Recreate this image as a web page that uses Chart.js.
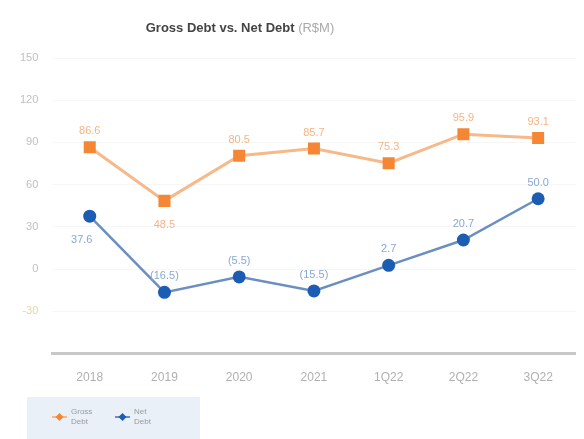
<!DOCTYPE html>
<html><head><meta charset="utf-8">
<script src="https://cdn.jsdelivr.net/npm/chart.js@4.4.0/dist/chart.umd.min.js"></script>
<style>
html,body{margin:0;padding:0;background:#fff;width:584px;height:439px;overflow:hidden;}
#wrap{position:relative;width:584px;height:439px;}
#title{position:absolute;left:0;top:20px;width:480px;text-align:center;font-family:"Liberation Sans",Arial,sans-serif;font-size:13px;font-weight:bold;color:#444;}
#title span{font-weight:normal;color:#aaa;}
</style></head>
<body><div id="wrap"><canvas id="c" width="584" height="439"></canvas>
<div id="title">Gross Debt vs. Net Debt <span>(R$M)</span></div></div>
<script>
const categories = ["2018","2019","2020","2021","1Q22","2Q22","3Q22"];
const grossDebt = [86.6, 48.5, 80.5, 85.7, 75.3, 95.9, 93.1];
const netDebt = [37.6, -16.5, -5.5, -15.5, 2.7, 20.7, 50.0];
const yTicks = [150, 120, 90, 60, 30, 0, -30];
const legendNames = [["Gross", "Debt"], ["Net", "Debt"]];

const FONT = '"Liberation Sans", Arial, sans-serif';
function fmt(v){ return v < 0 ? "(" + Math.abs(v).toFixed(1) + ")" : v.toFixed(1); }

const labelPlugin = {
  id: 'valLabels',
  afterDatasetsDraw(chart){
    const ctx = chart.ctx;
    ctx.save();
    ctx.font = '11px ' + FONT;
    ctx.textAlign = 'center';
    ctx.textBaseline = 'middle';
    chart.data.datasets.forEach((ds, di) => {
      const meta = chart.getDatasetMeta(di);
      const below = ds.labelBelow || [];
      meta.data.forEach((pt, i) => {
        ctx.fillStyle = ds.labelColor;
        const y = below[i] ? pt.y + 24 : pt.y - 16;
        const x = below[i] && di === 1 ? pt.x - 8 : pt.x;
        ctx.fillText(fmt(ds.data[i]), x, y);
      });
    });
    ctx.restore();
  }
};

const customLegend = {
  id: 'customLegend',
  afterDraw(chart){
    const ctx = chart.ctx;
    ctx.save();
    ctx.fillStyle = '#e9f0f8';
    ctx.fillRect(27, 397, 173, 42);
    const starts = [52, 115];
    chart.data.datasets.forEach((ds, di) => {
      const x0 = starts[di], y = 417;
      ctx.strokeStyle = ds.borderColor;
      ctx.lineWidth = 2;
      ctx.beginPath(); ctx.moveTo(x0, y); ctx.lineTo(x0 + 15, y); ctx.stroke();
      ctx.fillStyle = ds.pointBackgroundColor;
      ctx.beginPath();
      ctx.moveTo(x0 + 7.5, y - 4); ctx.lineTo(x0 + 11.5, y); ctx.lineTo(x0 + 7.5, y + 4); ctx.lineTo(x0 + 3.5, y);
      ctx.closePath(); ctx.fill();
      ctx.fillStyle = '#9a9a9a';
      ctx.font = '8px ' + FONT;
      ctx.textAlign = 'left';
      ctx.textBaseline = 'middle';
      const names = legendNames[di];
      ctx.fillText(names[0], x0 + 19, y - 5);
      ctx.fillText(names[1], x0 + 19, y + 5);
    });
    ctx.restore();
  }
};

new Chart(document.getElementById('c'), {
  type: 'line',
  data: {
    labels: categories,
    datasets: [
      { label: 'Gross Debt', data: grossDebt, borderColor: '#f6b98a', backgroundColor: '#f58634',
        pointStyle: 'rect', pointRadius: 8.5, pointHoverRadius: 8.5, borderWidth: 3,
        pointBorderColor: '#f58634', pointBackgroundColor: '#f58634', pointBorderWidth: 0,
        labelColor: '#f5b587', labelBelow: [false,true,false,false,false,false,false] },
      { label: 'Net Debt', data: netDebt, borderColor: '#6b8fc0', backgroundColor: '#1b5db3',
        pointStyle: 'circle', pointRadius: 6.5, pointHoverRadius: 6.5, borderWidth: 2.5,
        pointBorderColor: '#1b5db3', pointBackgroundColor: '#1b5db3', pointBorderWidth: 0,
        labelColor: '#89a8d2', labelBelow: [true,false,false,false,false,false,false] }
    ]
  },
  options: {
    responsive: false,
    animation: false,
    layout: { padding: { top: 58, right: 0, left: 6, bottom: 37 } },
    scales: {
      x: {
        offset: true,
        grid: { display: false, drawTicks: false },
        border: { display: true, color: '#c8c8c8', width: 3 },
        ticks: { color: '#b0b0b0', font: { size: 12, family: FONT }, padding: 17 }
      },
      y: {
        min: -60, max: 150,
        afterBuildTicks(axis){ axis.ticks = [-60].concat(yTicks.slice().reverse()).map(v => ({ value: v })); },
        grid: { color: '#f6f6f6', drawTicks: false },
        border: { display: false },
        ticks: { color: ctx => (ctx.tick && ctx.tick.value === -30) ? '#e2d9a6' : '#c0c0c0',
          font: { size: 11, family: FONT }, padding: 14,
          callback: v => v === -60 ? '' : v }
      }
    },
    plugins: {
      legend: { display: false },
      tooltip: { enabled: false }
    }
  },
  plugins: [labelPlugin, customLegend]
});
</script>
</body></html>
